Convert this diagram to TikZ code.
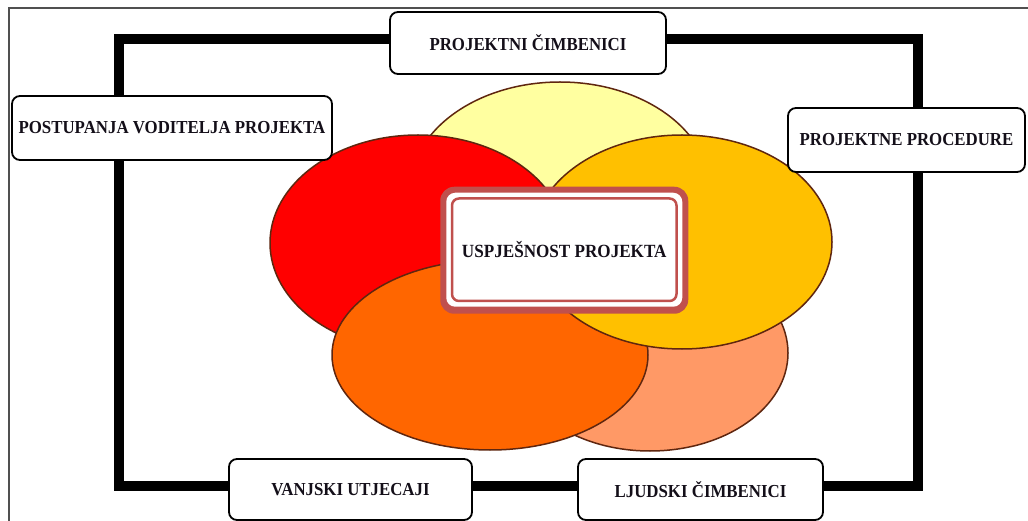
\documentclass[tikz,border=0pt]{standalone}
\usepackage{fontspec}
\setmainfont[FakeStretch=0.92]{Liberation Serif}
\usetikzlibrary{backgrounds}
\definecolor{cframe}{RGB}{192,80,77}
\definecolor{eyellow}{RGB}{255,255,160}
\definecolor{ered}{RGB}{255,0,0}
\definecolor{eorange}{RGB}{255,102,0}
\definecolor{egold}{RGB}{255,192,0}
\definecolor{epeach}{RGB}{255,153,102}
\definecolor{eline}{RGB}{95,38,15}
\definecolor{txt}{RGB}{20,15,25}
\definecolor{pageedge}{RGB}{80,80,80}
\begin{document}
\begin{tikzpicture}[x=1pt,y=-1pt,
  lbl/.style={draw=black, line width=1.8pt, fill=white, rounded corners=8pt, inner sep=0pt, align=center, font=\fontsize{18.3}{20}\selectfont\bfseries, text=txt},
  ell/.style={draw=eline, line width=1.5pt},
  frameline/.style={line width=10pt, line cap=butt, line join=miter},
  centerbox/.style={draw=cframe, line width=2.5pt, fill=white, rounded corners=7pt, inner sep=0pt, font=\fontsize{18.6}{20}\selectfont\bfseries, text=txt}
]
\useasboundingbox (0,0) rectangle (1028,521);

\node[lbl, minimum width=276pt, minimum height=62pt] (pc) at (528,43) {\raisebox{1pt}{PROJEKTNI ČIMBENICI}};
\node[lbl, minimum width=320pt, minimum height=64pt] (pv) at (172,128) {POSTUPANJA VODITELJA PROJEKTA};
\node[lbl, minimum width=237pt, minimum height=64pt] (pp) at (906.5,140) {PROJEKTNE PROCEDURE};
\node[lbl, minimum width=243pt, minimum height=61pt] (vu) at (350.5,489.5) {VANJSKI UTJECAJI};
\node[lbl, minimum width=245pt, minimum height=61pt] (lc) at (700.5,489.5) {LJUDSKI ČIMBENICI};
\node[centerbox, minimum width=224.5pt, minimum height=102.5pt] (usp) at (564.25,249.75) {\raisebox{-2.5pt}{USPJEŠNOST PROJEKTA}};

\coordinate (TL) at (119,39);
\coordinate (BR) at (918,486);

\begin{pgfonlayer}{background}
  \fill[white] (0,0) rectangle (1028,521);
  \draw[pageedge, line width=1.5pt] (1028,8) -- (9,8) -- (9,521);
  \draw[frameline] (pc.west |- TL) -| (TL |- pv.north);
  \draw[frameline] (pc.east |- TL) -| (BR |- pp.north);
  \draw[frameline] (pp.south -| BR) |- (lc.east |- BR);
  \draw[frameline] (lc.west |- BR) -- (vu.east |- BR);
  \draw[frameline] (vu.west |- BR) -| (TL |- pv.south);

  \draw[ell, fill=eyellow] (560,190) ellipse [x radius=150pt, y radius=108pt];
  \draw[ell, fill=ered] (418,243) ellipse [x radius=148pt, y radius=108pt];
  \draw[ell, fill=epeach] (650,353) ellipse [x radius=138pt, y radius=98pt];
  \draw[ell, fill=eorange] (490,355) ellipse [x radius=158pt, y radius=95pt];
  \draw[ell, fill=egold] (682,242) ellipse [x radius=150pt, y radius=107pt];

  \fill[cframe, rounded corners=14pt] ([shift={(-10.5,-10.5)}]usp.north west) rectangle ([shift={(10.5,11.5)}]usp.south east);
  \fill[white, rounded corners=9pt] ([shift={(-4.5,-4.5)}]usp.north west) rectangle ([shift={(4.5,4.5)}]usp.south east);
\end{pgfonlayer}
\end{tikzpicture}
\end{document}
